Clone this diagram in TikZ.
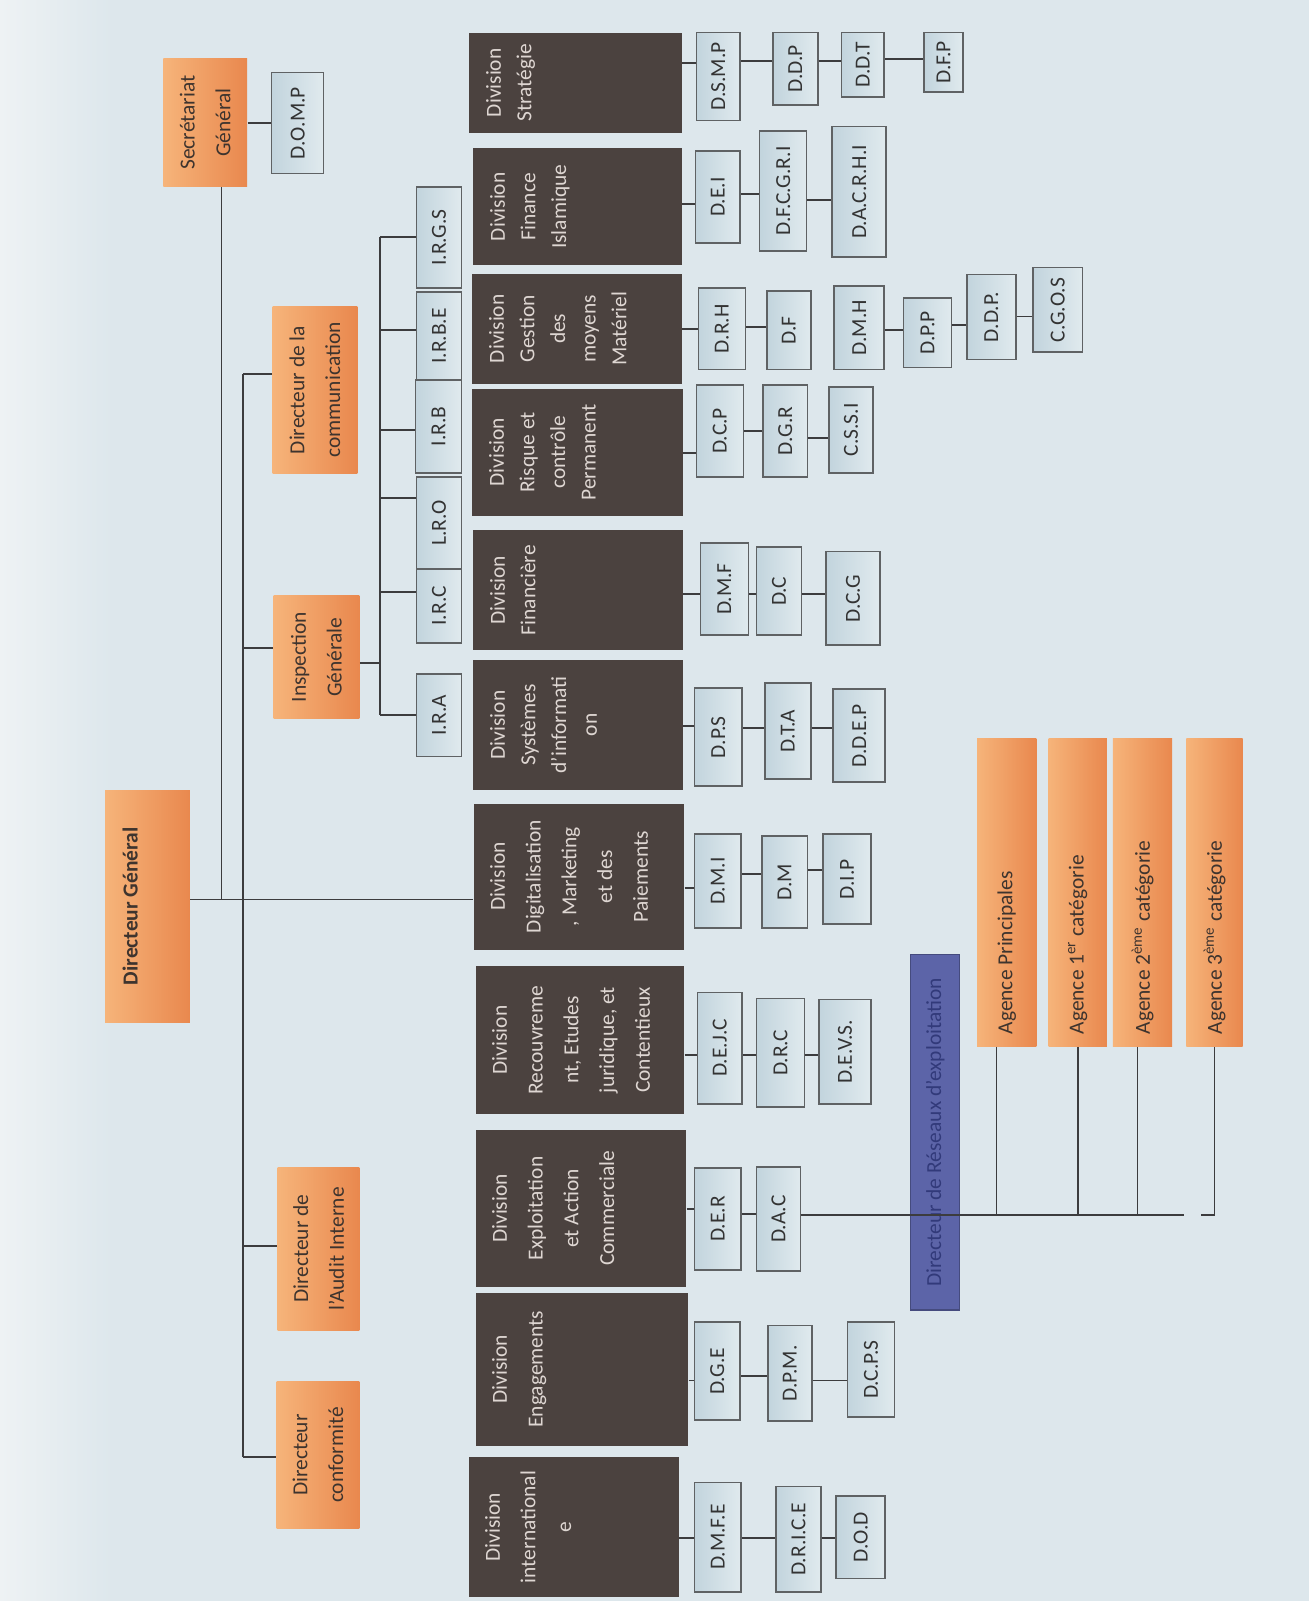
\documentclass[tikz,border=0pt]{standalone}
\usepackage{fontspec}
\setmainfont{Carlito}
\usetikzlibrary{positioning}

\definecolor{paper}{RGB}{221,231,236}
\definecolor{paperL}{RGB}{238,242,244}
\definecolor{orgL}{RGB}{246,180,122}
\definecolor{orgR}{RGB}{233,136,78}
\definecolor{orgtxt}{RGB}{62,52,46}
\definecolor{divbg}{RGB}{75,66,63}
\definecolor{divtx}{RGB}{222,214,210}
\definecolor{subL}{RGB}{194,212,221}
\definecolor{subR}{RGB}{224,234,238}
\definecolor{subln}{RGB}{95,98,100}
\definecolor{bluebg}{RGB}{92,100,168}
\definecolor{bluetx}{RGB}{50,58,122}
\definecolor{wirecol}{RGB}{60,60,62}

\tikzset{
  rbox/.style 2 args={rotate=90, inner sep=0pt, minimum width=#1*0.5pt, minimum height=#2*0.5pt},
  chef/.style={left color=orgL, right color=orgR, text=orgtxt, align=center,
    font=\fontsize{10.5}{17.5}\selectfont},
  sub/.style={left color=subL, right color=subR, draw=subln, line width=0.8pt,
    text=black!80, font=\fontsize{10.5}{13}\selectfont},
  division/.style={fill=divbg},
  divtext/.style={rotate=90, anchor=north, inner sep=8.5pt, align=center, text=divtx,
    font=\fontsize{10.5}{15}\selectfont},
  divwide/.style={divtext, inner sep=8pt, font=\fontsize{10.5}{17.5}\selectfont},
  agtext/.style={rotate=90, anchor=west, inner sep=6pt, text=orgtxt,
    font=\fontsize{10.5}{13}\selectfont},
  reseau/.style={fill=bluebg, draw=bluebg!75!black, line width=0.6pt, text=bluetx,
    font=\fontsize{10.5}{13}\selectfont},
  wire/.style={draw=wirecol, line width=0.9pt},
}

\begin{document}
\begin{tikzpicture}[x=0.5pt, y=-0.5pt]
  \useasboundingbox (0,0) rectangle (1282,1568);
  %Paper
  \fill[left color=paperL, right color=paper] (0,0) rectangle (110,1568);
  \fill[paper] (110,0) rectangle (1282,1568);

  %Direction
  \node[chef, rbox={227}{83}] (dg) at (144.5,887.5) {};
  \node[divtext, text=orgtxt, font={\fontsize{10.5}{13}\selectfont\bfseries}] (dg-t) at (dg.north) {Directeur Général};
  \node[chef, rbox={126}{82}] (sg) at (201,120) {Secrétariat\\Général};
  \node[sub, rbox={99}{51}] (domp) at (291.5,120.5) {D.O.M.P};
  \node[chef, rbox={164}{83}] (comm) at (308.5,382) {Directeur de la\\communication};
  \node[chef, rbox={121}{84}] (insp) at (310,643.5) {Inspection\\Générale};
  \node[chef, rbox={160}{80}] (audit) at (312,1223) {Directeur de\\l’Audit Interne};
  \node[chef, rbox={144}{81}] (conf) at (311.5,1425) {Directeur\\conformité};

  %Inspections regionales
  \node[sub, rbox={99}{44}] (irgs) at (430,232.5) {I.R.G.S};
  \node[sub, rbox={86}{44}] (irbe) at (430,329) {I.R.B.E};
  \node[sub, rbox={91}{45}] (irb) at (429.5,417.5) {I.R.B};
  \node[sub, rbox={90}{44}] (lro) at (430,512) {L.R.O};
  \node[sub, rbox={73}{44}] (irc) at (430,593.5) {I.R.C};
  \node[sub, rbox={81}{44}] (ira) at (430,700.5) {I.R.A};

  %Divisions
  \node[division, rbox={98}{209}] (strat) at (563.5,81) {};
  \node[divtext] (strat-t) at (strat.north) {Division\\Stratégie};
  \node[division, rbox={115}{205}] (finisl) at (565.5,202.5) {};
  \node[divtext] (finisl-t) at (finisl.north) {Division\\Finance\\Islamique};
  \node[division, rbox={108}{206}] (gest) at (565,322) {};
  \node[divtext] (gest-t) at (gest.north) {Division\\Gestion\\des\\moyens\\Matériel};
  \node[division, rbox={124}{207}] (risq) at (565.5,443) {};
  \node[divtext] (risq-t) at (risq.north) {Division\\Risque et\\contrôle\\Permanent};
  \node[division, rbox={118}{206}] (finan) at (566,578) {};
  \node[divtext] (finan-t) at (finan.north) {Division\\Financière};
  \node[division, rbox={128}{206}] (sysinfo) at (566,710) {};
  \node[divtext] (sysinfo-t) at (sysinfo.north) {Division\\Systèmes\\d’informati\\on};
  \node[division, rbox={143}{206}] (digit) at (567,858.5) {};
  \node[divwide] (digit-t) at (digit.north) {Division\\Digitalisation\\, Marketing\\et des\\Paiements};
  \node[division, rbox={145}{204}] (recouv) at (568,1018.5) {};
  \node[divwide] (recouv-t) at (recouv.north) {Division\\Recouvreme\\nt, Etudes\\juridique, et\\Contentieux};
  \node[division, rbox={153}{206}] (exploit) at (569,1183.5) {};
  \node[divwide] (exploit-t) at (exploit.north) {Division\\Exploitation\\et Action\\Commerciale};
  \node[division, rbox={150}{208}] (engag) at (570,1341) {};
  \node[divwide] (engag-t) at (engag.north) {Division\\Engagements};
  \node[division, rbox={137}{206}] (intl) at (562,1495.5) {};
  \node[divwide] (intl-t) at (intl.north) {Division\\international\\e};

  %Directions
  \node[sub, rbox={86}{43}] (dsmp) at (703.5,75) {D.S.M.P};
  \node[sub, rbox={71}{44}] (ddp) at (779,67.5) {D.D.P};
  \node[sub, rbox={63}{42}] (ddt) at (845,63.5) {D.D.T};
  \node[sub, rbox={58}{38}] (dfp) at (924,61) {D.F.P};

  \node[sub, rbox={90}{44}] (dei) at (703,193) {D.E.I};
  \node[sub, rbox={118}{46}] (dfcgri) at (767,187) {D.F.C.G.R.I};
  \node[sub, rbox={128}{53}] (dacrhi) at (841.5,188) {D.A.C.R.H.I};

  \node[sub, rbox={80}{46}] (drh) at (707,322) {D.R.H};
  \node[sub, rbox={77}{43}] (df) at (772.5,323.5) {D.F};
  \node[sub, rbox={82}{49}] (dmh) at (841.5,321) {D.M.H};
  \node[sub, rbox={68}{47}] (dpp) at (908.5,326) {D.P.P};
  \node[sub, rbox={83}{48}] (ddpt) at (971,310.5) {D.D.P.};
  \node[sub, rbox={83}{48}] (cgos) at (1036,303.5) {C.G.O.S};

  \node[sub, rbox={90}{46}] (dcp) at (705,422) {D.C.P};
  \node[sub, rbox={90}{44}] (dgr) at (769,422) {D.G.R};
  \node[sub, rbox={84}{43}] (cssi) at (833.5,421) {C.S.S.I};

  \node[sub, rbox={90}{47}] (dmf) at (709.5,577) {D.M.F};
  \node[sub, rbox={86}{44}] (dc) at (763,579) {D.C};
  \node[sub, rbox={92}{53}] (dcg) at (835.5,586) {D.C.G};

  \node[sub, rbox={96}{47}] (dps) at (703.5,722) {D.P.S};
  \node[sub, rbox={94}{45}] (dta) at (771.5,716) {D.T.A};
  \node[sub, rbox={91}{51}] (ddep) at (841.5,720.5) {D.D.E.P};

  \node[sub, rbox={92}{46}] (dmi) at (703,863) {D.M.I};
  \node[sub, rbox={90}{45}] (dm) at (768.5,864) {D.M};
  \node[sub, rbox={88}{47}] (dip) at (829.5,861) {D.I.P};

  \node[sub, rbox={109}{44}] (dejc) at (705,1026.5) {D.E.J.C};
  \node[sub, rbox={106}{47}] (drc) at (764.5,1031) {D.R.C};
  \node[sub, rbox={102}{51}] (devs) at (827.5,1030) {D.E.V.S.};

  \node[sub, rbox={100}{46}] (der) at (703,1194) {D.E.R};
  \node[sub, rbox={102}{43}] (dac) at (762.5,1194) {D.A.C};

  \node[sub, rbox={96}{45}] (dge) at (702.5,1343) {D.G.E};
  \node[sub, rbox={94}{43}] (dpm) at (773.5,1345) {D.P.M.};
  \node[sub, rbox={93}{46}] (dcps) at (853,1341.5) {D.C.P.S};

  \node[sub, rbox={107}{46}] (dmfe) at (703,1505.5) {D.M.F.E};
  \node[sub, rbox={103}{44}] (drice) at (782,1507.5) {D.R.I.C.E};
  \node[sub, rbox={81}{48}] (dod) at (843,1505.5) {D.O.D};

  %Reseau
  \node[reseau, rbox={348}{48}] (drex) at (916,1109) {Directeur de Réseaux d’exploitation};
  \node[chef, rbox={302}{58}] (agp) at (986,874) {};
  \node[agtext] (agp-t) at (agp.west) {Agence Principales};
  \node[chef, rbox={302}{57}] (ag1) at (1055.5,874) {};
  \node[agtext] (ag1-t) at (ag1.west) {Agence 1\textsuperscript{er} catégorie};
  \node[chef, rbox={302}{58}] (ag2) at (1119,874) {};
  \node[agtext] (ag2-t) at (ag2.west) {Agence 2\textsuperscript{ème} catégorie};
  \node[chef, rbox={302}{55}] (ag3) at (1189.5,874) {};
  \node[agtext] (ag3-t) at (ag3.west) {Agence 3\textsuperscript{ème} catégorie};

  %Draw lines
  \coordinate (sgfoot) at (217,881);
  \coordinate (staffT) at (238,366);
  \coordinate (staffB) at (238,1427);
  \coordinate (irT) at (372,232);
  \coordinate (irB) at (372,700);
  \coordinate (rxE) at (1160,1190);
  \coordinate (rx3) at (1176,1190);

  \draw[wire] (dg.south |- sgfoot) -- (digit.north |- sgfoot);
  \draw[wire] (sg.west -| sgfoot) -- (sgfoot);
  \draw[wire] (sg.south |- 0,120.5) -- (domp.north |- 0,120.5);
  \draw[wire] (staffT) -- (staffB);
  \draw[wire] (staffT) -- (comm.north |- staffT);
  \draw[wire] (staffT |- 0,635) -- (insp.north |- 0,635);
  \draw[wire] (staffT |- 0,1220) -- (audit.north |- 0,1220);
  \draw[wire] (staffB) -- (conf.north |- staffB);

  \draw[wire] (insp.south |- 0,649) -- (irT |- 0,649);
  \draw[wire] (irT) -- (irB);
  \draw[wire] (irT) -- (irgs.north |- irT);
  \draw[wire] (irT |- 0,323) -- (irbe.north |- 0,323);
  \draw[wire] (irT |- 0,421) -- (irb.north |- 0,421);
  \draw[wire] (irT |- 0,488) -- (lro.north |- 0,488);
  \draw[wire] (irT |- 0,580) -- (irc.north |- 0,580);
  \draw[wire] (irB) -- (ira.north |- irB);

  \draw[wire] (strat.south |- 0,62) -- (dsmp.north |- 0,62);
  \draw[wire] (dsmp.south |- 0,60) -- (ddp.north |- 0,60);
  \draw[wire] (ddp.south |- 0,60) -- (ddt.north |- 0,60);
  \draw[wire] (ddt.south |- 0,58) -- (dfp.north |- 0,58);

  \draw[wire] (finisl.south |- 0,200) -- (dei.north |- 0,200);
  \draw[wire] (dei.south |- 0,190) -- (dfcgri.north |- 0,190);
  \draw[wire] (dfcgri.south |- 0,196) -- (dacrhi.north |- 0,196);

  \draw[wire] (gest.south |- 0,322) -- (drh.north |- 0,322);
  \draw[wire] (drh.south |- 0,320) -- (df.north |- 0,320);
  \draw[wire] (dmh.south |- 0,323) -- (dpp.north |- 0,323);
  \draw[wire] (dpp.south |- 0,318) -- (ddpt.north |- 0,318);
  \draw[wire] (ddpt.south |- 0,310) -- (cgos.north |- 0,310);

  \draw[wire] (risq.south |- 0,444) -- (dcp.north |- 0,444);
  \draw[wire] (dcp.south |- 0,422) -- (dgr.north |- 0,422);
  \draw[wire] (dgr.south |- 0,429) -- (cssi.north |- 0,429);

  \draw[wire] (finan.south |- 0,582) -- (dmf.north |- 0,582);
  \draw[wire] (dmf.south |- 0,582) -- (dc.north |- 0,582);
  \draw[wire] (dc.south |- 0,582) -- (dcg.north |- 0,582);

  \draw[wire] (sysinfo.south |- 0,711) -- (dps.north |- 0,711);
  \draw[wire] (dps.south |- 0,713) -- (dta.north |- 0,713);
  \draw[wire] (dta.south |- 0,713) -- (ddep.north |- 0,713);

  \draw[wire] (digit.south |- 0,870) -- (dmi.north |- 0,870);
  \draw[wire] (dmi.south |- 0,856) -- (dm.north |- 0,856);
  \draw[wire] (dm.south |- 0,852) -- (dip.north |- 0,852);

  \draw[wire] (recouv.south |- 0,1033) -- (dejc.north |- 0,1033);
  \draw[wire] (dejc.south |- 0,1033) -- (drc.north |- 0,1033);
  \draw[wire] (drc.south |- 0,1033) -- (devs.north |- 0,1033);

  \draw[wire] (exploit.south |- 0,1184) -- (der.north |- 0,1184);
  \draw[wire] (der.south |- 0,1189) -- (dac.north |- 0,1189);

  \draw[wire] (engag.south |- 0,1352) -- (dge.north |- 0,1352);
  \draw[wire] (dge.south |- 0,1348) -- (dpm.north |- 0,1348);
  \draw[wire] (dpm.south |- 0,1352) -- (dcps.north |- 0,1352);

  \draw[wire] (intl.south |- 0,1506) -- (dmfe.north |- 0,1506);
  \draw[wire] (dmfe.south |- 0,1506) -- (drice.north |- 0,1506);
  \draw[wire] (drice.south |- 0,1506) -- (dod.north |- 0,1506);

  \draw[wire] (dac.south |- rxE) -- (rxE);
  \draw[wire] ([xshift=-5pt]agp.west) -- ([xshift=-5pt]agp.west |- rxE);
  \draw[wire] (ag1.west) -- (ag1.west |- rxE);
  \draw[wire] ([xshift=-2.5pt]ag2.west) -- ([xshift=-2.5pt]ag2.west |- rxE);
  \draw[wire] (ag3.west) -- (ag3.west |- rx3) -- (rx3);
\end{tikzpicture}
\end{document}
